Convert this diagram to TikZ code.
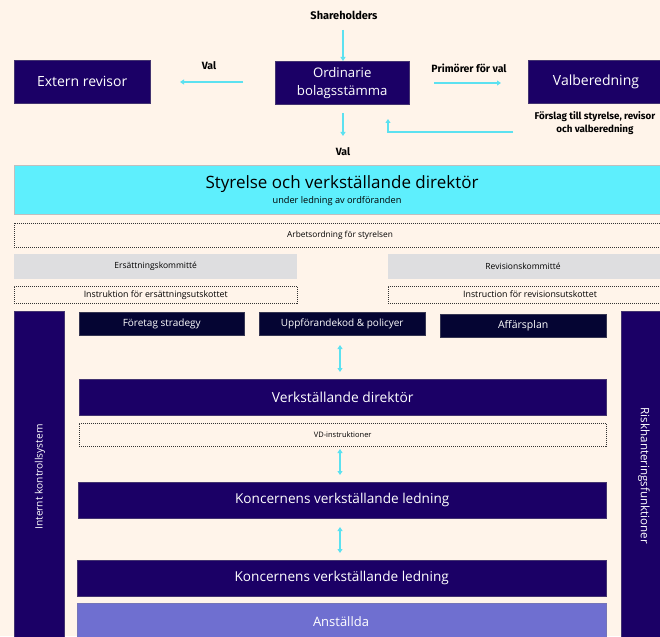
\documentclass[tikz,border=0pt]{standalone}
\usepackage{fontspec}
\setmainfont{Open Sans}
\newfontfamily\labfont{Fira Sans}
\usetikzlibrary{arrows.meta}
\definecolor{bg}{HTML}{FFF4EA}
\definecolor{navy}{HTML}{1B0066}
\definecolor{ink}{HTML}{050533}
\definecolor{cyanbox}{HTML}{5EEFFD}
\definecolor{greybox}{HTML}{DEDEE0}
\definecolor{arr}{HTML}{5CE1F0}
\definecolor{lav}{HTML}{6F6FD0}
\tikzset{
  px/.style={x=1pt,y=-1pt},
  darkbox/.style={fill=navy,draw=navy!60!gray,line width=0.4pt,text=white,inner sep=0pt,anchor=north west},
  inkbox/.style={fill=ink,draw=ink!60!gray,line width=0.4pt,text=white,inner sep=0pt,anchor=north west},
  dashbox/.style={draw=black!80,line width=0.4pt,dash pattern=on 1pt off 1pt,inner sep=0pt,anchor=north west,font=\fontsize{8.5}{9}\selectfont},
  greyb/.style={fill=greybox,draw=none,inner sep=0pt,anchor=north west,font=\fontsize{8.5}{9}\selectfont},
  flow/.style={draw=arr,line width=1.6pt,-{Triangle[length=4pt,width=5pt]}},
  flow2/.style={draw=arr,line width=1.6pt,{Triangle[length=4pt,width=5pt]}-{Triangle[length=4pt,width=5pt]}},
  lab/.style={font=\labfont\bfseries\fontsize{10.5}{13}\selectfont,text=black,inner sep=1pt}
}
\begin{document}
\begin{tikzpicture}[px]
\fill[bg] (0,0) rectangle (660,636);
\useasboundingbox (0,0) rectangle (660,636);
\clip (0,0) rectangle (660,636);

\node[lab,font=\labfont\bfseries\fontsize{11}{13}\selectfont] (sh) at (344,15) {Shareholders};
\node[darkbox,minimum width=136pt,minimum height=43pt,font=\fontsize{14}{16}\selectfont] (ext) at (14,60) {Extern revisor};
\node[darkbox,minimum width=134pt,minimum height=43pt,font=\fontsize{13.2}{18}\selectfont,align=center] (ord) at (275,61) {Ordinarie\\bolagsstämma};
\node[darkbox,minimum width=140pt,minimum height=43pt,font=\fontsize{14}{16}\selectfont] (valb) at (528,60) {};
\node[text=white,font=\fontsize{14}{16}\selectfont] (valbt) at (596,82) {Valberedning};

\coordinate (shb) at (343,30);
\draw[flow] (shb) -- (ord.north -| shb);
\coordinate (vl1) at (243,82);
\coordinate (vl2) at (180,82);
\draw[flow] (vl1) -- (vl2);
\node[lab] (val1) at (209,66) {Val};
\coordinate (pr1) at (434,83);
\coordinate (pr2) at (501,83);
\draw[flow] (pr1) -- (pr2);
\node[lab] (prim) at (469,68) {Primörer för val};
\coordinate (vd1) at (343,113);
\coordinate (vd2) at (343,136);
\draw[flow] (vd1) -- (vd2);
\node[lab] (val2) at (343,152) {Val};
\coordinate (fb1) at (513,132);
\coordinate (fb2) at (388,132);
\coordinate (fb3) at (388,119);
\draw[flow] (fb1) -- (fb2) -- (fb3);
\node[lab,align=center,anchor=north,font=\labfont\bfseries\fontsize{9.8}{13}\selectfont] (forsl) at (595,110) {Förslag till styrelse, revisor\\och valberedning};

\node[fill=cyanbox,draw=gray!50,line width=0.3pt,inner sep=0pt,anchor=north west,minimum width=660pt,minimum height=49pt] (sty) at (14,165) {};
\node[font=\fontsize{17}{20}\selectfont] (styt) at (342,184) {Styrelse och verkställande direktör};
\node[font=\fontsize{9.2}{11}\selectfont] (stys) at (337,201) {under ledning av ordföranden};

\node[dashbox,minimum width=660pt,minimum height=24pt] (arb) at (14,223) {};
\node[font=\fontsize{8.3}{9}\selectfont] (arbt) at (340,235) {Arbetsordning för styrelsen};

\node[greyb,minimum width=283pt,minimum height=25pt] (ers) at (14,254) {Ersättningskommitté};
\node[greyb,minimum width=290pt,minimum height=25pt] (rev) at (388,254) {};
\node[font=\fontsize{8.5}{9}\selectfont] (revt) at (523,266.5) {Revisionskommitté};
\node[dashbox,minimum width=283pt,minimum height=17pt,font=\fontsize{8.8}{9}\selectfont] (ins1) at (14,286) {Instruktion för ersättningsutskottet};
\node[dashbox,minimum width=290pt,minimum height=17pt] (ins2) at (388,286) {};
\node[font=\fontsize{8.8}{9}\selectfont] (ins2t) at (530,294.5) {Instruction för revisionsutskottet};

\node[darkbox,minimum width=50pt,minimum height=330pt] (ik) at (14,311) {};
\node[rotate=90,text=white,font=\fontsize{10.2}{12}\selectfont] (ikt) at (40,477) {Internt kontrollsystem};
\node[darkbox,minimum width=45pt,minimum height=330pt] (rk) at (621,311) {};
\node[rotate=-90,text=white,font=\fontsize{11.6}{12}\selectfont] (rkt) at (644,476) {Riskhanteringsfunktioner};

\node[inkbox,minimum width=165pt,minimum height=23pt,font=\fontsize{10}{12}\selectfont] (fs) at (79,312) {Företag stradegy};
\node[inkbox,minimum width=166pt,minimum height=23pt,font=\fontsize{10}{12}\selectfont] (up) at (259,312) {Uppförandekod \& policyer};
\node[inkbox,minimum width=166pt,minimum height=23pt,font=\fontsize{10.5}{12}\selectfont] (af) at (440,314) {Affärsplan};

\node[darkbox,minimum width=527pt,minimum height=36pt,font=\fontsize{13.8}{16}\selectfont] (vdir) at (79,379) {Verkställande direktör};
\node[dashbox,minimum width=527pt,minimum height=23pt,font=\fontsize{7.5}{8}\selectfont] (vdi) at (79,423) {VD-instruktioner};
\node[darkbox,minimum width=528pt,minimum height=36pt,font=\fontsize{13.6}{16}\selectfont] (kl1) at (78,482) {Koncernens verkställande ledning};
\node[darkbox,minimum width=529pt,minimum height=36pt,font=\fontsize{13.6}{16}\selectfont] (kl2) at (77,560) {Koncernens verkställande ledning};
\node[fill=lav,draw=lav!70!gray,line width=0.3pt,inner sep=0pt,anchor=north west,minimum width=529pt,minimum height=40pt] (ans) at (77,603) {};
\node[text=white,font=\fontsize{13}{16}\selectfont] (anst) at (341,622) {Anställda};

\coordinate (a1) at (340,345);
\coordinate (a2) at (340,372);
\draw[flow2] (a1) -- (a2);
\coordinate (b1) at (340,449);
\coordinate (b2) at (340,475);
\draw[flow2] (b1) -- (b2);
\coordinate (c1) at (340,527);
\coordinate (c2) at (340,553);
\draw[flow2] (c1) -- (c2);
\end{tikzpicture}
\end{document}
